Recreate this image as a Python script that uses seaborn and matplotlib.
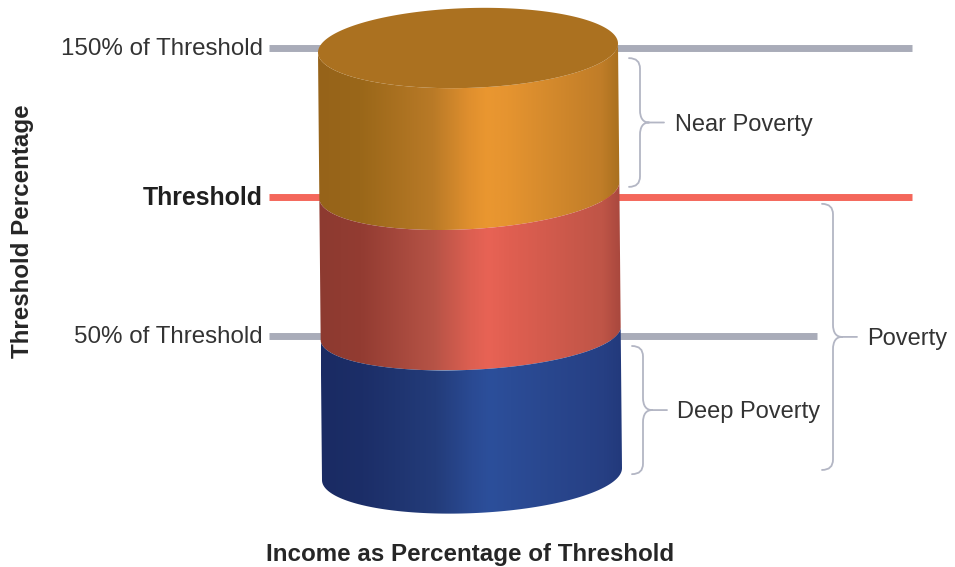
import numpy as np
import pandas as pd
import matplotlib
matplotlib.use('Agg')
import matplotlib.pyplot as plt
from matplotlib.colors import LinearSegmentedColormap
from matplotlib.patches import PathPatch, Polygon
from matplotlib.path import Path
import seaborn as sns

# livelli di soglia (percentuale)
level_labels = ['150% of Threshold', 'Threshold', '50% of Threshold']
level_values = [150, 100, 53.4]
level_colors = ['#a9acb9', '#f4675b', '#a9acb9']
level_right = [912, 912, 817]

# bordi del cilindro, dall'alto verso il basso
edge_values = [150, 102.3, 54.2, 7]
edge_tilt = [1.5, 2.7, 2.2, 2.0]
edge_depth = [13.4, 13.1, 12.2, 13.1]

band_names = ['near', 'poverty', 'deep']
band_stops = {
    'near': ['#96631a', '#9a6719', '#b97a27', '#df8f2e', '#ea9730', '#e59430', '#c07d28', '#a9701f'],
    'poverty': ['#8d3a30', '#933c32', '#b65346', '#dc5f51', '#e86355', '#e05f51', '#bf5547', '#a9483e'],
    'deep': ['#1a2b63', '#1c2e68', '#233c7a', '#2a4a93', '#2c4f9b', '#2b4c96', '#263f83', '#22397b'],
}
stop_pos = [0, 0.14, 0.38, 0.5, 0.56, 0.63, 0.94, 1]
top_color = '#ab7120'

# parentesi graffe: inizio, fine, etichetta
brace_labels = ['Near Poverty', 'Deep Poverty', 'Poverty']
brace_top = [146.6, 50.0, 97.7]
brace_bottom = [103.4, 7.0, 8.4]

PX_PER_PCT = 2.98
Y_TOP = 100 + 197 / PX_PER_PCT
Y_BOTTOM = 100 - (567 - 197) / PX_PER_PCT
RX = 150


def center_x(value):
    # il cilindro e' leggermente inclinato
    return 468 + (150 - value) / 143 * 4


def ellipse(i, t):
    value = edge_values[i]
    x = center_x(value) + RX * np.cos(t)
    y = value + edge_depth[i] * np.sin(t) + edge_tilt[i] * np.cos(t)
    return x, y


def draw_band(ax, name, i):
    t = np.linspace(np.pi, 2 * np.pi, 120)
    x1, y1 = ellipse(i, t)
    x2, y2 = ellipse(i + 1, t)
    verts = np.vstack([np.column_stack([x1, y1]), np.column_stack([x2, y2])[::-1]])
    patch = Polygon(verts, closed=True, facecolor='none', edgecolor='none')
    ax.add_patch(patch)
    cmap = LinearSegmentedColormap.from_list(name, list(zip(stop_pos, band_stops[name])))
    grad = np.linspace(0, 1, 256).reshape(1, -1)
    im = ax.imshow(grad, extent=(x1[0], x2[-1], y2.min(), y1.max()), aspect='auto',
                   cmap=cmap, interpolation='bilinear', zorder=3 + i)
    im.set_clip_path(patch)


def draw_brace(ax, top, bottom, x0):
    mid = (top + bottom) / 2
    c = 3.5
    xv = x0 + 11
    verts = [(x0, top), (xv, top), (xv, top - c),
             (xv, mid + c * 1.2),
             (xv, mid + 1.5), (xv + 3, mid), (xv + 9, mid),
             (x0 + 35, mid),
             (xv + 9, mid),
             (xv + 3, mid), (xv, mid - 1.5), (xv, mid - c * 1.2),
             (xv, bottom + c),
             (xv, bottom), (x0, bottom)]
    codes = [Path.MOVETO, Path.CURVE3, Path.CURVE3,
             Path.LINETO,
             Path.CURVE4, Path.CURVE4, Path.CURVE4,
             Path.LINETO,
             Path.MOVETO,
             Path.CURVE4, Path.CURVE4, Path.CURVE4,
             Path.LINETO,
             Path.CURVE3, Path.CURVE3]
    ax.add_patch(PathPatch(Path(verts, codes), facecolor='none', edgecolor='#b3b6c4',
                           lw=1.3, capstyle='round', zorder=2))


sns.set_theme(style='white')
plt.rcParams['font.family'] = ['Liberation Sans', 'DejaVu Sans']

fig = plt.figure(figsize=(9.55, 5.67), dpi=100)
ax = fig.add_axes([0, 0, 1, 1])

# linee di soglia dietro al cilindro
for value, color, right in zip(level_values, level_colors, level_right):
    line = pd.DataFrame({'x': [269, right], 'y': [value, value]})
    sns.lineplot(data=line, x='x', y='y', ax=ax, color=color, linewidth=5,
                 estimator=None, solid_capstyle='butt', zorder=1)

for i, name in enumerate(band_names):
    draw_band(ax, name, i)

# faccia superiore
t = np.linspace(0, 2 * np.pi, 240)
top_x, top_y = ellipse(0, t)
ax.add_patch(Polygon(np.column_stack([top_x, top_y]), closed=True, facecolor=top_color,
                     edgecolor='none', zorder=7))

for top, bottom, x0 in zip(brace_top, brace_bottom, [629, 632, 822]):
    draw_brace(ax, top, bottom, x0)

for label, value in zip(level_labels, level_values):
    bold = label == 'Threshold'
    ax.text(262.5, value - 0.3, label, ha='right', va='center', fontsize=17.9 if bold else 17.4,
            fontweight='bold' if bold else 'normal',
            color='#1f1f1f' if bold else '#333333')

for label, top, bottom, x in zip(brace_labels, brace_top, brace_bottom, [675, 677, 867]):
    ax.text(x, (top + bottom) / 2 - 0.8, label, ha='left', va='center', fontsize=17.0, color='#333333')

ax.text(470.5, 100 - (554 - 197) / PX_PER_PCT, 'Income as Percentage of Threshold', ha='center',
        va='center', fontsize=17.4, fontweight='bold', color='#262626')
ax.text(23, 100 - (231 - 197) / PX_PER_PCT, 'Threshold Percentage', rotation=90, ha='center',
        va='center', fontsize=17.4, fontweight='bold', color='#262626')

ax.set_xlim(0, 955)
ax.set_ylim(Y_BOTTOM, Y_TOP)
ax.set_axis_off()

fig.savefig('out.png', dpi=100)
